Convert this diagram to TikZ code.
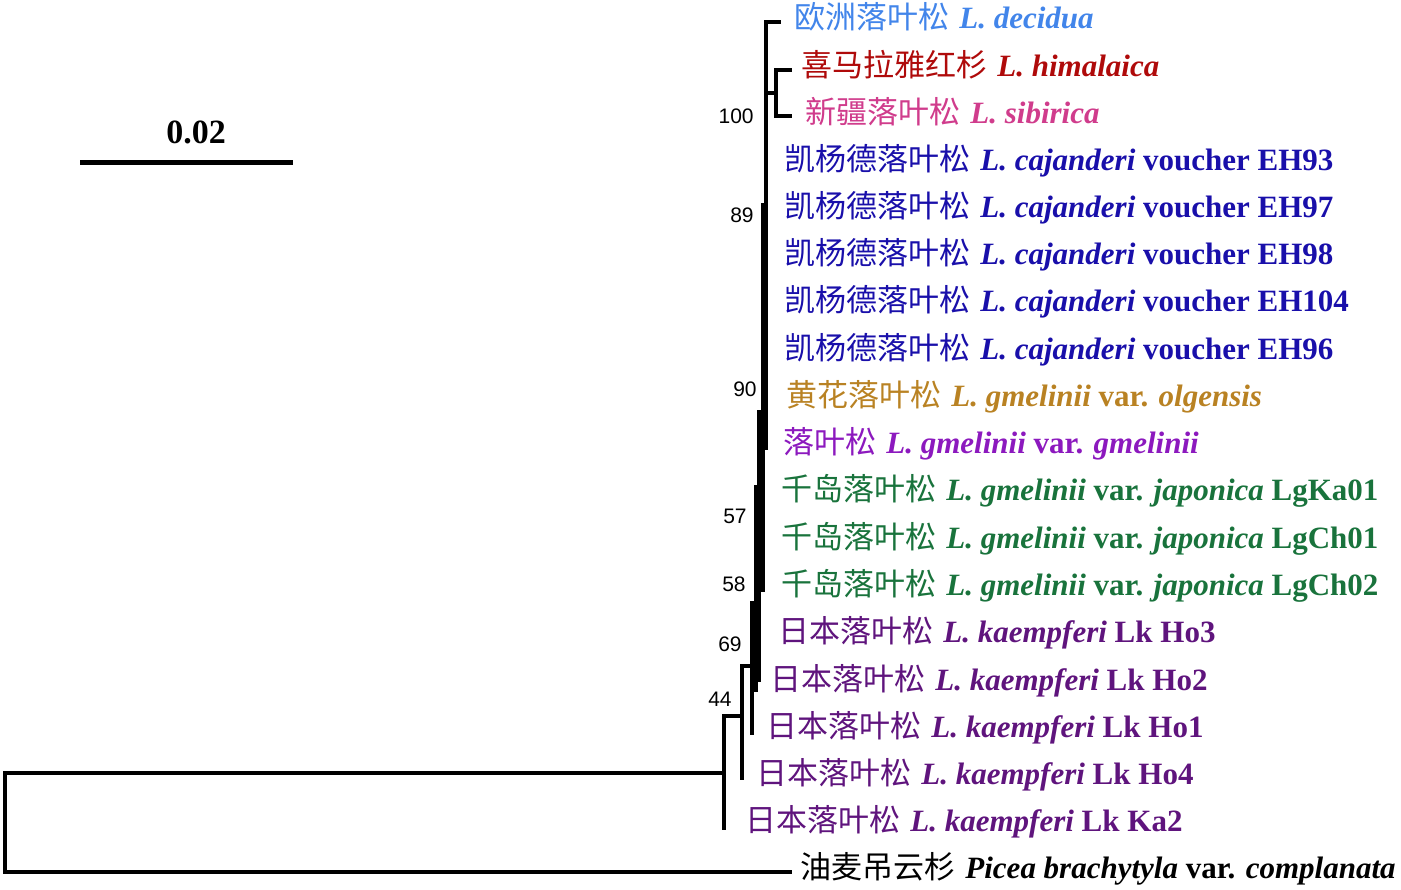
\documentclass[tikz,border=0pt]{standalone}
\usepackage{fontspec}
\setmainfont{Liberation Serif}[BoldFont=Liberation Serif Bold,ItalicFont=Liberation Serif Italic,BoldItalicFont=Liberation Serif Bold Italic]
\newfontfamily\cjkf{Noto Sans CJK SC}
\newfontfamily\arialf{Liberation Sans}
\definecolor{cdec}{RGB}{66,133,234}
\definecolor{chim}{RGB}{175,10,10}
\definecolor{csib}{RGB}{208,60,140}
\definecolor{ccaj}{RGB}{25,15,170}
\definecolor{colg}{RGB}{185,130,35}
\definecolor{cgme}{RGB}{140,25,190}
\definecolor{cjap}{RGB}{25,115,60}
\definecolor{ckae}{RGB}{95,20,125}
\newcommand\zh[1]{{\cjkf\mdseries\fontsize{15.5}{17}\selectfont #1}\hspace{5pt}}
\newcommand\spn[1]{{\bfseries\itshape #1}}
\begin{document}
\begin{tikzpicture}[x=0.5pt,y=-0.5pt,
  br/.style={line width=1.8pt,line cap=rect,line join=miter},
  leaf/.style={anchor=base west,inner sep=0pt,font=\fontsize{15.5}{17}\selectfont\bfseries},
  boot/.style={anchor=base east,inner sep=0pt,font=\arialf\fontsize{10.5}{12}\selectfont}]
\useasboundingbox (0,0) rectangle (1401,889);
% leaf labels
\node[leaf,text=cdec] (t1) at (794,28) {\zh{欧洲落叶松}\spn{L. decidua}};
\node[leaf,text=chim] (t2) at (801,76) {\zh{喜马拉雅红杉}\spn{L. himalaica}};
\node[leaf,text=csib] (t3) at (805,123) {\zh{新疆落叶松}\spn{L. sibirica}};
\node[leaf,text=ccaj] (t4) at (784,170) {\zh{凯杨德落叶松}\spn{L. cajanderi} voucher EH93};
\node[leaf,text=ccaj] (t5) at (784,217) {\zh{凯杨德落叶松}\spn{L. cajanderi} voucher EH97};
\node[leaf,text=ccaj] (t6) at (784,264) {\zh{凯杨德落叶松}\spn{L. cajanderi} voucher EH98};
\node[leaf,text=ccaj] (t7) at (784,311) {\zh{凯杨德落叶松}\spn{L. cajanderi} voucher EH104};
\node[leaf,text=ccaj] (t8) at (784,359) {\zh{凯杨德落叶松}\spn{L. cajanderi} voucher EH96};
\node[leaf,text=colg] (t9) at (786,406) {\zh{黄花落叶松}\spn{L. gmelinii} var. \spn{olgensis}};
\node[leaf,text=cgme] (t10) at (783,453) {\zh{落叶松}\spn{L. gmelinii} var. \spn{gmelinii}};
\node[leaf,text=cjap] (t11) at (781,500) {\zh{千岛落叶松}\spn{L. gmelinii} var. \spn{japonica} LgKa01};
\node[leaf,text=cjap] (t12) at (781,548) {\zh{千岛落叶松}\spn{L. gmelinii} var. \spn{japonica} LgCh01};
\node[leaf,text=cjap] (t13) at (781,595) {\zh{千岛落叶松}\spn{L. gmelinii} var. \spn{japonica} LgCh02};
\node[leaf,text=ckae] (t14) at (778,642) {\zh{日本落叶松}\spn{L. kaempferi} Lk Ho3};
\node[leaf,text=ckae] (t15) at (770,690) {\zh{日本落叶松}\spn{L. kaempferi} Lk Ho2};
\node[leaf,text=ckae] (t16) at (766,737) {\zh{日本落叶松}\spn{L. kaempferi} Lk Ho1};
\node[leaf,text=ckae] (t17) at (756,784) {\zh{日本落叶松}\spn{L. kaempferi} Lk Ho4};
\node[leaf,text=ckae] (t18) at (745,831) {\zh{日本落叶松}\spn{L. kaempferi} Lk Ka2};
\node[leaf,text=black] (t19) at (800,878) {\zh{油麦吊云杉}\spn{Picea brachytyla} var. \spn{complanata}};
% bootstrap values
\node[boot] (b100) at (754,123) {100};
\node[boot] (b89) at (754,222) {89};
\node[boot] (b90) at (757,396) {90};
\node[boot] (b57) at (747,523) {57};
\node[boot] (b58) at (746,591) {58};
\node[boot] (b69) at (742,651) {69};
\node[boot] (b44) at (732,706) {44};
% tree coordinates
\coordinate (root) at (5,822);
\coordinate (tipP) at (790,872);
\coordinate (n44) at (724,773);
\coordinate (tipKa2) at (724,828);
\coordinate (tipHo4) at (742,778);
\coordinate (n69) at (742,716);
\coordinate (n58) at (752,666);
\coordinate (tipHo1) at (752,733);
\coordinate (n57) at (756,603);
\coordinate (n90) at (759,412);
\coordinate (ntop) at (766,412);
\coordinate (tip1) at (779,22);
\coordinate (n100) at (776,93);
\coordinate (tip2) at (790,70);
\coordinate (tip3) at (790,116);
% branches
\draw[br] (tipP) -| (root) |- (n44);
\draw[br] (tipKa2) -- (724,716) -- (n69);
\draw[br] (tipHo4) -- (742,666) -- (n58);
\draw[br] (tipHo1) -- (752,603) -- (n57);
\draw[br] (756,690) -- (756,487);
\draw[br] (759,680) -- (n90) -- (ntop);
\draw[br] (763,590) -- (763,412);
\draw[br] (766,448) -- (766,22) -- (tip1);
\draw[br] (763,205) -- (763,448);
\draw[br] (766,93) -- (n100);
\draw[br] (tip2) -| (776,93) |- (tip3);
% scale bar
\coordinate (sb1) at (80,162);
\coordinate (sb2) at (293,162);
\draw[line width=2.5pt] (sb1) -- (sb2);
\node[font=\fontsize{17}{20}\selectfont\bfseries,inner sep=0pt] (sbl) at (196,132) {0.02};
\end{tikzpicture}
\end{document}
